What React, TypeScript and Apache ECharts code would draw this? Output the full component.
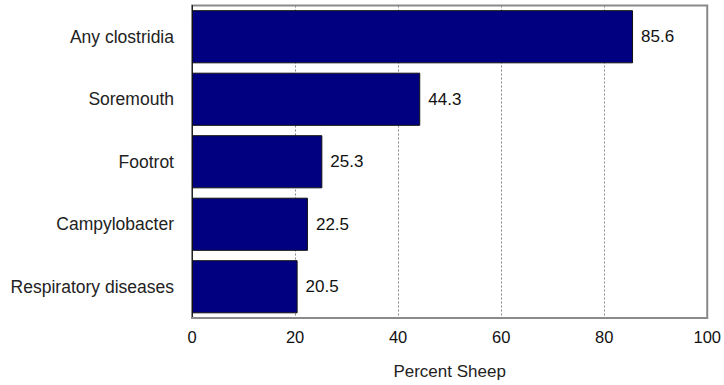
import React, { useEffect, useRef } from "react";
import * as echarts from "echarts";

const categories = [
  "Any clostridia",
  "Soremouth",
  "Footrot",
  "Campylobacter",
  "Respiratory diseases",
];
const percentSheep = [85.6, 44.3, 25.3, 22.5, 20.5];
const xTicks = [0, 20, 40, 60, 80, 100];

const FONT = "'Liberation Sans', Arial, Helvetica, sans-serif";

export default function App() {
  const ref = useRef<HTMLDivElement>(null);

  useEffect(() => {
    if (!ref.current) return;
    const chart = echarts.init(ref.current, null, { renderer: "svg" });
    chart.setOption({
      animation: false,
      backgroundColor: "#ffffff",
      grid: {
        left: 192,
        right: 13,
        top: 5.5,
        bottom: 64,
        show: true,
        borderColor: "#8a8a8a",
        borderWidth: 2,
        backgroundColor: "transparent",
      },
      xAxis: {
        type: "value",
        min: xTicks[0],
        max: xTicks[xTicks.length - 1],
        interval: 20,
        name: "Percent Sheep",
        nameLocation: "middle",
        nameGap: 45,
        nameTextStyle: { fontFamily: FONT, fontSize: 17, color: "#222" },
        axisLine: { show: true, lineStyle: { color: "#8a8a8a", width: 2 } },
        axisTick: { show: false },
        axisLabel: {
          fontFamily: FONT,
          fontSize: 16.5,
          color: "#111",
          margin: 10,
        },
        splitLine: {
          show: true,
          lineStyle: { color: "#888", type: [2, 2], width: 1 },
        },
      },
      yAxis: {
        type: "category",
        data: categories,
        inverse: true,
        axisLine: { show: true, lineStyle: { color: "#222", width: 1 } },
        axisTick: { show: false },
        axisLabel: {
          fontFamily: FONT,
          fontSize: 17.5,
          color: "#222",
          margin: 18,
        },
        splitLine: { show: false },
      },
      series: [
        {
          type: "bar",
          data: percentSheep,
          barCategoryGap: "15%",
          itemStyle: {
            color: "#000080",
            borderColor: "#111",
            borderWidth: 1,
          },
          label: {
            show: true,
            position: "right",
            distance: 8,
            fontFamily: FONT,
            fontSize: 17,
            color: "#111",
            formatter: (p: any) => Number(p.value).toFixed(1),
          },
        },
      ],
    });
    return () => chart.dispose();
  }, []);

  return (
    <div
      ref={ref}
      style={{
        position: "fixed",
        left: 0,
        top: 0,
        width: 724,
        height: 385,
        background: "#fff",
      }}
    />
  );
}
